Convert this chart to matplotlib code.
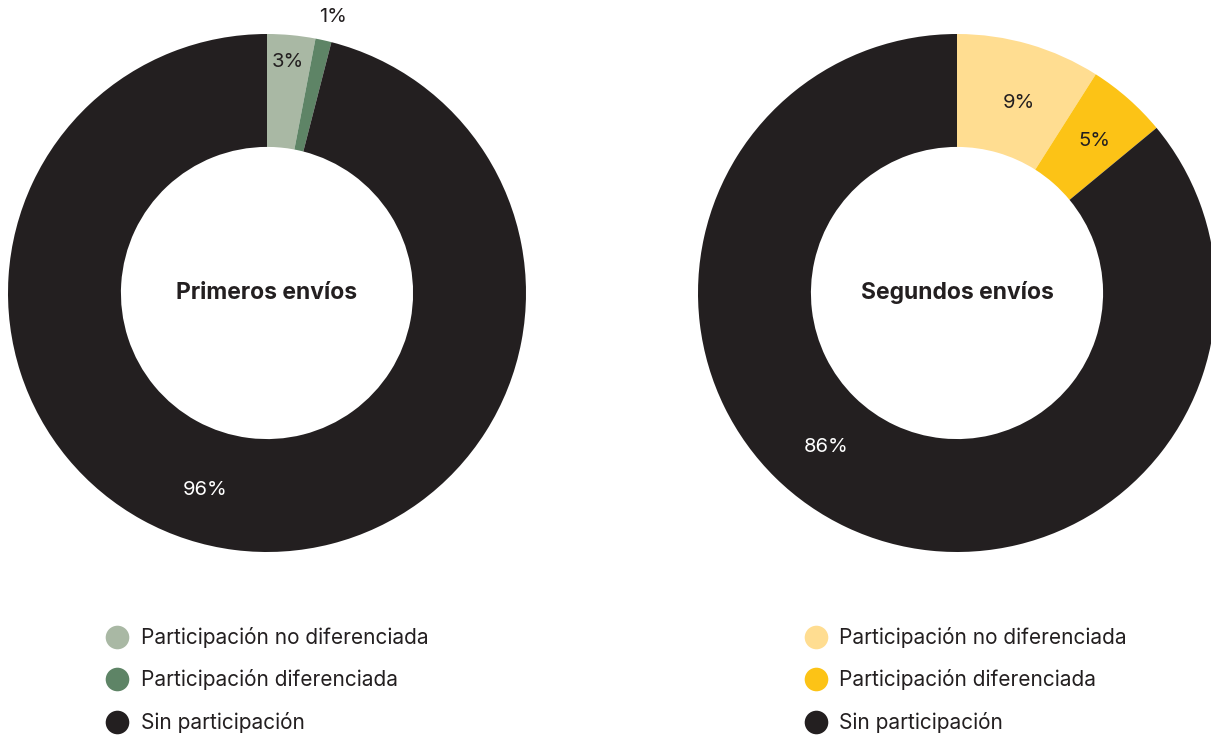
import matplotlib.pyplot as plt
from matplotlib.lines import Line2D

plt.rcParams['font.family'] = ['Inter', 'DejaVu Sans']

# data
categories = ['Participación no diferenciada', 'Participación diferenciada', 'Sin participación']
primeros = [3, 1, 96]
segundos = [9, 5, 86]
titles = ['Primeros envíos', 'Segundos envíos']

colors_left = ['#a9b8a4', '#5e8466', '#231f20']
colors_right = ['#ffdd91', '#fcc316', '#231f20']
dark = '#231f20'

# label placement (x, y in axes data units, text colour)
labels_left = [(0.081, 0.892, dark), (0.255, 1.066, dark), (-0.239, -0.761, 'white')]
labels_right = [(0.239, 0.734, dark), (0.529, 0.587, dark), (-0.506, -0.595, 'white')]

W, H = 1211, 735
fig = plt.figure(figsize=(W / 100, H / 100), dpi=100)

R = 259
def donut(cx, cy, values, colors, title, labels, legend_x, pad):
    ax = fig.add_axes([(cx - R) / W, (H - cy - R) / H, 2 * R / W, 2 * R / H])
    ax.pie(values, colors=colors, startangle=90, counterclock=False,
           radius=1, wedgeprops=dict(width=0.436, linewidth=0))
    ax.set_xlim(-1, 1)
    ax.set_ylim(-1, 1)
    ax.set_aspect('equal')
    ax.axis('off')
    ax.text(0, 0, title, ha='center', va='center', fontsize=16.5,
            fontweight='bold', color=dark)
    for v, (x, y, c) in zip(values, labels):
        ax.text(x, y, f'{v}%', ha='center', va='center', fontsize=14.5,
                color=c, clip_on=False)

    handles = [Line2D([], [], marker='o', linestyle='none', markersize=17,
                      markerfacecolor=c, markeredgecolor='none') for c in colors]
    fig.legend(handles, categories, loc='upper left',
               bbox_to_anchor=(legend_x / W, (H - 627) / H),
               frameon=False, fontsize=15, labelspacing=1.03,
               handlelength=1.0, handletextpad=pad, borderpad=0,
               borderaxespad=0, labelcolor=dark)

donut(267, 293, primeros, colors_left, titles[0], labels_left, 106.6, 0.65)
donut(957, 293, segundos, colors_right, titles[1], labels_right, 805.6, 0.6)

fig.savefig('out.png', dpi=100)
